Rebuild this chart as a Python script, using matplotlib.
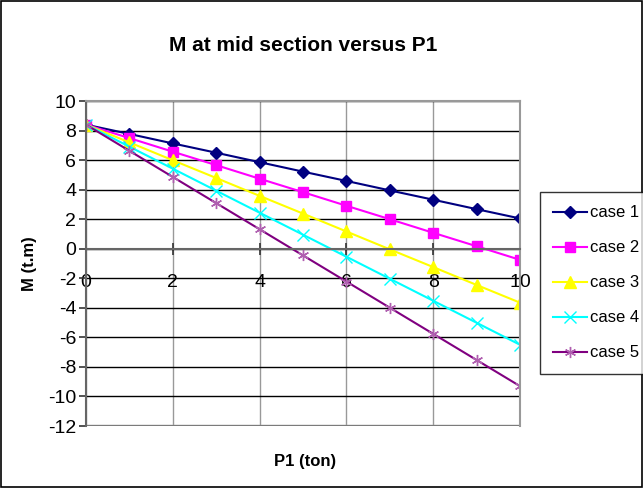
import numpy as np
import matplotlib.pyplot as plt
from matplotlib.patches import Rectangle

p1 = [0, 1, 2, 3, 4, 5, 6, 7, 8, 9, 10]
case1 = [8.4, 7.77, 7.13, 6.5, 5.86, 5.22, 4.59, 3.95, 3.32, 2.68, 2.05]
case2 = [8.4, 7.49, 6.57, 5.66, 4.74, 3.83, 2.91, 2.0, 1.08, 0.17, -0.75]
case3 = [8.4, 7.2, 5.99, 4.79, 3.58, 2.38, 1.17, -0.04, -1.24, -2.45, -3.65]
case4 = [8.4, 6.91, 5.42, 3.93, 2.44, 0.95, -0.54, -2.03, -3.52, -5.01, -6.5]
case5 = [8.4, 6.63, 4.86, 3.09, 1.32, -0.45, -2.22, -3.99, -5.76, -7.53, -9.3]
labels = ['case 1', 'case 2', 'case 3', 'case 4', 'case 5']

plt.rcParams['font.family'] = ['Liberation Sans', 'DejaVu Sans']
plt.rcParams['axes.unicode_minus'] = False

fig = plt.figure(figsize=(6.43, 4.88), dpi=100)
fig.patches.append(Rectangle((0.002, 0.002), 0.996, 0.996, transform=fig.transFigure,
                             fill=False, edgecolor='black', linewidth=1.2))
ax = fig.add_axes([0.1337, 0.127, 0.675, 0.666])

styles = [
    ('#000080', 'D', 6),
    ('#ff00ff', 's', 7),
    ('#ffff00', '^', 8),
    ('#00ffff', 'x', 8),
    ('#800080', '*', 8),
]
for ys, (c, m, ms), lab in zip([case1, case2, case3, case4, case5], styles, labels):
    if m == '*':
        ax.plot(p1, ys, color=c, lw=1.5, marker=(6, 2, 0), ms=ms, mec='#b060b0', mew=1.0, label=lab)
    elif m == 'x':
        ax.plot(p1, ys, color=c, lw=1.5, marker='x', ms=ms, mec=c, mew=1.0, label=lab)
    else:
        ax.plot(p1, ys, color=c, lw=1.5, marker=m, ms=ms, mec=c, mfc=c, label=lab)

ax.set_xlim(0, 10)
ax.set_ylim(-12, 10)
ax.set_yticks(np.arange(-12, 11, 2))
ax.set_xticks(np.arange(0, 11, 2))
ax.yaxis.grid(True, color='black', lw=1.0)
ax.xaxis.grid(True, color='#999999', lw=1.0)
ax.set_axisbelow(True)

ax.spines['bottom'].set_position(('data', 0))
ax.spines['bottom'].set_color('#666666')
ax.spines['left'].set_color('#666666')
ax.spines['left'].set_linewidth(1.5)
ax.spines['bottom'].set_linewidth(1.5)
for s in ('top', 'right'):
    ax.spines[s].set_color('#999999')
    ax.spines[s].set_linewidth(1.5)
# bottom border of the plot area at -12
ax.axhline(-12, color='#999999', lw=2.5, zorder=0)

ax.tick_params(axis='x', direction='inout', length=8, width=1.2, color='#333333',
               labelsize=14, pad=14)
ax.tick_params(axis='y', direction='out', length=5, width=1.2, color='#333333',
               labelsize=14, pad=2)

ax.set_title('M at mid section versus P1', fontsize=15, fontweight='bold', pad=36)
ax.set_ylabel('M (t.m)', fontsize=12, fontweight='bold', labelpad=8)
fig.text(0.474, 0.054, 'P1 (ton)', fontsize=12, fontweight='bold',
         ha='center', va='center')

leg = fig.legend(loc='upper left', bbox_to_anchor=(540 / 643, 1 - 192 / 488), fontsize=12,
                 frameon=True, fancybox=False, edgecolor='black', handlelength=2.0,
                 labelspacing=1.2, borderpad=0.8, handletextpad=0.2, borderaxespad=0)
leg.get_frame().set_linewidth(1.0)

fig.savefig('out.png', dpi=100)
